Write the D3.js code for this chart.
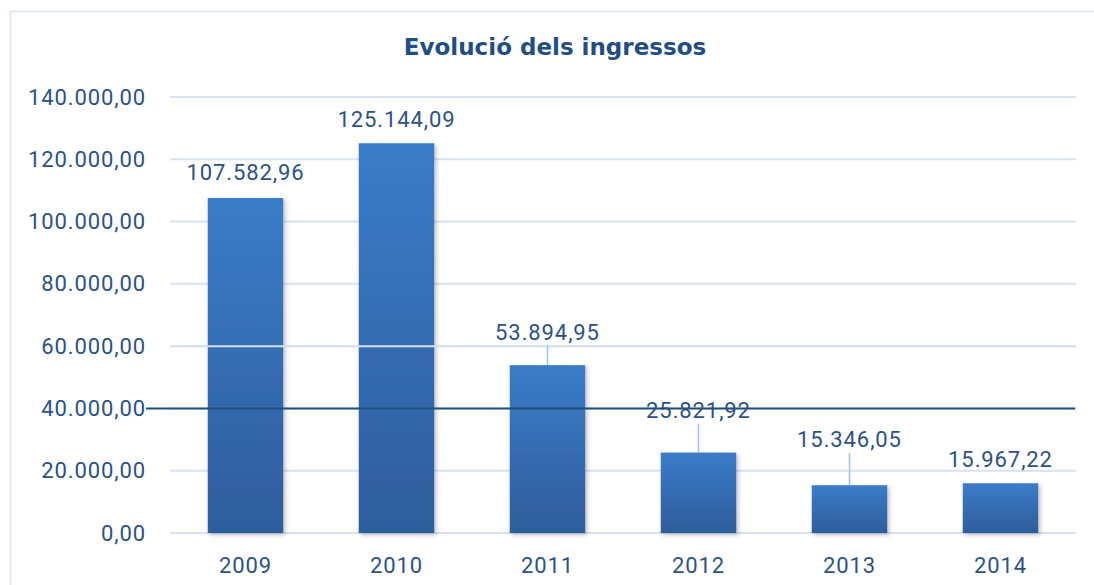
<!DOCTYPE html>
<html>
<head>
<meta charset="utf-8">
<script src="https://cdn.jsdelivr.net/npm/d3@7"></script>
<style>
  html, body { margin: 0; padding: 0; background: #fff; }
  svg { display: block; }
</style>
</head>
<body>
<svg id="chart" width="1094" height="585"></svg>
<script>
// Data
const years = ['2009', '2010', '2011', '2012', '2013', '2014'];
const ingressos = [107582.96, 125144.09, 53894.95, 25821.92, 15346.05, 15967.22];
const yTicks = [0, 20000, 40000, 60000, 80000, 100000, 120000, 140000];

// Label placement: gap above bar top (px), and whether a leader line is drawn
const labelGap = [18, 16, 25, 35, 38, 16];
const hasLeader = [false, false, true, true, true, false];

const width = 1094;
const height = 585;
const margin = { top: 97, right: 18, bottom: 52, left: 170 };

const textColor = '#2b5285';
const gridColor = '#d6e2f2';

// Catalan-style number format: 140.000,00
const locale = d3.formatLocale({ decimal: ',', thousands: '.', grouping: [3], currency: ['', '€'] });
const fmt = locale.format(',.2f');

const svg = d3.select('#chart');

// gradient for the bars
const defs = svg.append('defs');
const grad = defs.append('linearGradient')
  .attr('id', 'barGrad')
  .attr('x1', 0).attr('y1', 0).attr('x2', 0).attr('y2', 1);
grad.append('stop').attr('offset', '0%').attr('stop-color', '#3b7cc9');
grad.append('stop').attr('offset', '100%').attr('stop-color', '#2e5d9c');

const shadow = defs.append('filter').attr('id', 'shadow')
  .attr('x', '-20%').attr('y', '-5%').attr('width', '140%').attr('height', '115%');
shadow.append('feDropShadow')
  .attr('dx', 2).attr('dy', 2).attr('stdDeviation', 2)
  .attr('flood-color', '#000').attr('flood-opacity', 0.25);

// outer frame
svg.append('rect')
  .attr('x', 10.5).attr('y', 11.5)
  .attr('width', 1110).attr('height', 600)
  .attr('fill', 'none')
  .attr('stroke', '#d9e5f3')
  .attr('stroke-width', 1.5);

const x = d3.scaleBand()
  .domain(years)
  .range([margin.left, width - margin.right])
  .paddingInner(0.5)
  .paddingOuter(0.25);

const y = d3.scaleLinear()
  .domain([0, 140000])
  .range([height - margin.bottom, margin.top]);

// title
svg.append('text')
  .attr('x', 555)
  .attr('y', 55)
  .attr('text-anchor', 'middle')
  .attr('font-family', 'DejaVu Sans')
  .attr('font-weight', 'bold')
  .attr('font-size', 23)
  .attr('fill', '#1f4e84')
  .text('Evolució dels ingressos');

// gridlines (behind bars)
const grid = svg.append('g').attr('class', 'grid');
grid.selectAll('line')
  .data(yTicks)
  .join('line')
  .attr('x1', margin.left)
  .attr('x2', width - margin.right)
  .attr('y1', d => y(d))
  .attr('y2', d => y(d))
  .attr('stroke', gridColor)
  .attr('stroke-width', 2);

// y axis labels
const yAxis = svg.append('g')
  .attr('transform', `translate(${margin.left - 24},0)`)
  .call(d3.axisLeft(y).tickValues(yTicks).tickFormat(fmt).tickSize(0).tickPadding(0));
yAxis.select('.domain').remove();
yAxis.selectAll('text')
  .attr('font-family', 'Roboto')
  .attr('font-size', 22)
  .attr('letter-spacing', 0.9)
  .attr('fill', textColor);

// x axis labels
const xAxis = svg.append('g')
  .attr('transform', `translate(0,${height - margin.bottom})`)
  .call(d3.axisBottom(x).tickSize(0).tickPadding(24));
xAxis.select('.domain').remove();
xAxis.selectAll('text')
  .attr('font-family', 'Roboto')
  .attr('font-size', 22)
  .attr('letter-spacing', 0.9)
  .attr('fill', textColor);

// bars
svg.append('g').selectAll('rect')
  .data(ingressos)
  .join('rect')
  .attr('x', (d, i) => x(years[i]))
  .attr('y', d => y(d))
  .attr('width', x.bandwidth())
  .attr('height', d => y(0) - y(d))
  .attr('fill', 'url(#barGrad)')
  .attr('filter', 'url(#shadow)');

// the 60.000 gridline shows over the bars in the original
svg.append('line')
  .attr('x1', margin.left)
  .attr('x2', width - margin.right)
  .attr('y1', y(60000))
  .attr('y2', y(60000))
  .attr('stroke', gridColor)
  .attr('stroke-width', 2);

// dark reference line at 40.000
svg.append('line')
  .attr('x1', margin.left - 24)
  .attr('x2', width - margin.right - 1)
  .attr('y1', y(40000))
  .attr('y2', y(40000))
  .attr('stroke', '#1f4e79')
  .attr('stroke-width', 2);

// leader lines
svg.append('g').selectAll('line')
  .data(ingressos.map((v, i) => ({ v, i })).filter(d => hasLeader[d.i]))
  .join('line')
  .attr('x1', d => x(years[d.i]) + x.bandwidth() / 2)
  .attr('x2', d => x(years[d.i]) + x.bandwidth() / 2)
  .attr('y1', d => y(d.v) - labelGap[d.i] + 6)
  .attr('y2', d => y(d.v))
  .attr('stroke', '#9dc3e6')
  .attr('stroke-width', 1.5);

// value labels
svg.append('g').selectAll('text')
  .data(ingressos)
  .join('text')
  .attr('x', (d, i) => x(years[i]) + x.bandwidth() / 2)
  .attr('y', (d, i) => y(d) - labelGap[i])
  .attr('text-anchor', 'middle')
  .attr('font-family', 'Roboto')
  .attr('font-size', 22)
  .attr('letter-spacing', 0.9)
  .attr('fill', textColor)
  .text(d => fmt(d));
</script>
</body>
</html>
